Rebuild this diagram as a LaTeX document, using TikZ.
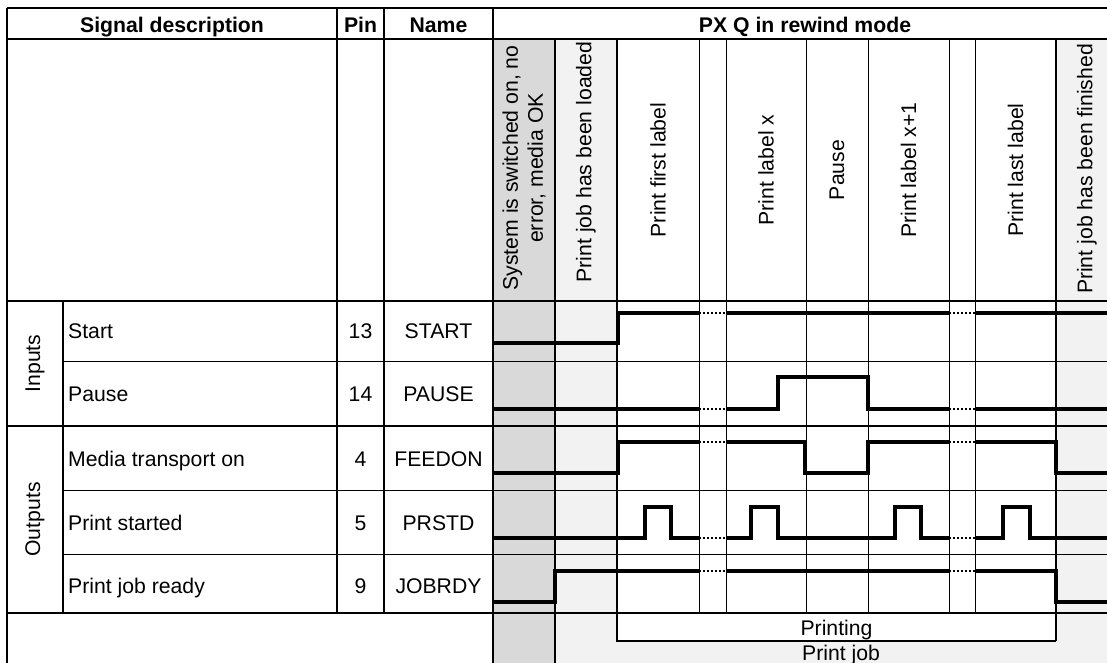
\documentclass[tikz,border=0pt]{standalone}
\usepackage{fontspec}
\setmainfont{Liberation Sans}
\usepackage{xcolor}
\definecolor{sysgray}{RGB}{217,217,217}
\definecolor{jobgray}{RGB}{242,242,242}

\begin{document}
\begin{tikzpicture}[
    x=1pt, y=-1pt,
    every node/.style={font=\fontsize{21.2}{25}\selectfont, inner sep=0pt},
    hdr/.style={font=\fontsize{21.2}{25}\selectfont\bfseries, anchor=base},
    lbl/.style={anchor=base west},
    cell/.style={anchor=base},
    vlbl/.style={rotate=90, align=center},
    frame_line/.style={line width=1.8pt},
    mid_line/.style={line width=1.3pt},
    thin_line/.style={line width=1pt},
    sig/.style={line width=4pt},
    gap/.style={line width=1.4pt, dash pattern=on 2pt off 2pt},
]
\useasboundingbox (0,0) rectangle (1107,663);

% Shaded columns
\fill[sysgray] (493,39) rectangle (555,663);
\fill[jobgray] (555,39) rectangle (617,663);
\fill[jobgray] (617,641) rectangle (1107,663);
\fill[jobgray] (1056,39) rectangle (1107,641);

% Table frame
\draw[frame_line] (7,8) -- (1107,8);
\draw[frame_line] (7,39) -- (1107,39);
\draw[frame_line] (7,301) -- (1107,301);
\draw[frame_line] (7,426) -- (1107,426);
\draw[frame_line] (7,613) -- (1107,613);
\draw[thin_line] (63,361) -- (1107,361);
\draw[thin_line] (63,490) -- (1107,490);
\draw[thin_line] (63,554) -- (1107,554);
\draw[frame_line] (7,8) -- (7,663);
\draw[frame_line] (63,301) -- (63,613);
\draw[frame_line] (337,8) -- (337,613);
\draw[frame_line] (384,8) -- (384,613);
\draw[frame_line] (493,8) -- (493,663);
\draw[frame_line] (555,39) -- (555,663);

% Phase columns
\draw[thin_line] (699,39) -- (699,613);
\draw[thin_line] (726,39) -- (726,613);
\draw[thin_line] (806,39) -- (806,613);
\draw[thin_line] (868,39) -- (868,613);
\draw[thin_line] (949,39) -- (949,613);
\draw[thin_line] (975,39) -- (975,613);

% Printing bracket
\draw[mid_line] (617,39) -- (617,641) -- (1056,641);
\draw[frame_line] (1056,39) -- (1056,641);

% Header
\node[hdr] (hsig) at (172,33) {Signal description};
\node[hdr] (hpin) at (360.5,33) {Pin};
\node[hdr] (hname) at (438.5,33) {Name};
\node[hdr] (hmode) at (805,33) {PX Q in rewind mode};

% Phase labels
\node[vlbl] (psys) at (524,168) {System is switched on, no\\error, media OK};
\node[vlbl] (pload) at (586,162) {Print job has been loaded};
\node[vlbl] (pfirst) at (658,170) {Print first label};
\node[vlbl] (px) at (766,170) {Print label x};
\node[vlbl] (ppause) at (837,170) {Pause};
\node[vlbl] (pxnext) at (908.5,170) {Print label x+1};
\node[vlbl] (plast) at (1015.5,170) {Print last label};
\node[vlbl] (pdone) at (1087,169) {Print job has been finished};

% Signal rows
\node[vlbl] (gin) at (35,363.5) {Inputs};
\node[vlbl] (gout) at (35,519.5) {Outputs};

\node[lbl] (dstart) at (68,338) {Start};
\node[lbl] (dpause) at (68,401) {Pause};
\node[lbl] (dfeed) at (68,466) {Media transport on};
\node[lbl] (dprstd) at (68,530) {Print started};
\node[lbl] (djob) at (68,593) {Print job ready};

\node[cell] (pin13) at (360.5,338) {13};
\node[cell] (pin14) at (360.5,401) {14};
\node[cell] (pin4) at (360.5,466) {4};
\node[cell] (pin5) at (360.5,530) {5};
\node[cell] (pin9) at (360.5,593) {9};

\node[cell] (nstart) at (438.5,338) {START};
\node[cell] (npause) at (438.5,401) {PAUSE};
\node[cell] (nfeed) at (438.5,466) {FEEDON};
\node[cell] (nprstd) at (438.5,530) {PRSTD};
\node[cell] (njob) at (438.5,593) {JOBRDY};

% START
\draw[sig] (493,343) -- (618,343) -- (618,313) -- (699,313);
\draw[gap] (699,313) -- (726,313);
\draw[sig] (726,313) -- (949,313);
\draw[gap] (949,313) -- (975,313);
\draw[sig] (975,313) -- (1107,313);

% PAUSE
\draw[sig] (493,409) -- (699,409);
\draw[gap] (699,409) -- (726,409);
\draw[sig] (726,409) -- (778,409) -- (778,377) -- (868,377) -- (868,409) -- (949,409);
\draw[gap] (949,409) -- (975,409);
\draw[sig] (975,409) -- (1107,409);

% FEEDON
\draw[sig] (493,473) -- (618,473) -- (618,442) -- (699,442);
\draw[gap] (699,442) -- (726,442);
\draw[sig] (726,442) -- (805,442) -- (805,473) -- (868,473) -- (868,442) -- (949,442);
\draw[gap] (949,442) -- (975,442);
\draw[sig] (975,442) -- (1056,442) -- (1056,473) -- (1107,473);

% PRSTD
\draw[sig] (493,538) -- (645,538) -- (645,507) -- (671,507) -- (671,538) -- (699,538);
\draw[gap] (699,538) -- (726,538);
\draw[sig] (726,538) -- (751,538) -- (751,507) -- (778,507) -- (778,538)
    -- (895,538) -- (895,507) -- (921,507) -- (921,538) -- (949,538);
\draw[gap] (949,538) -- (975,538);
\draw[sig] (975,538) -- (1003,538) -- (1003,507) -- (1030,507) -- (1030,538) -- (1107,538);

% JOBRDY
\draw[sig] (493,602) -- (555,602) -- (555,571) -- (699,571);
\draw[gap] (699,571) -- (726,571);
\draw[sig] (726,571) -- (949,571);
\draw[gap] (949,571) -- (975,571);
\draw[sig] (975,571) -- (1056,571) -- (1056,602) -- (1107,602);

% Bottom annotations
\node[cell] (tprint) at (836.5,635) {Printing};
\node[cell] (tjob) at (841,660) {Print job};

\end{tikzpicture}
\end{document}
